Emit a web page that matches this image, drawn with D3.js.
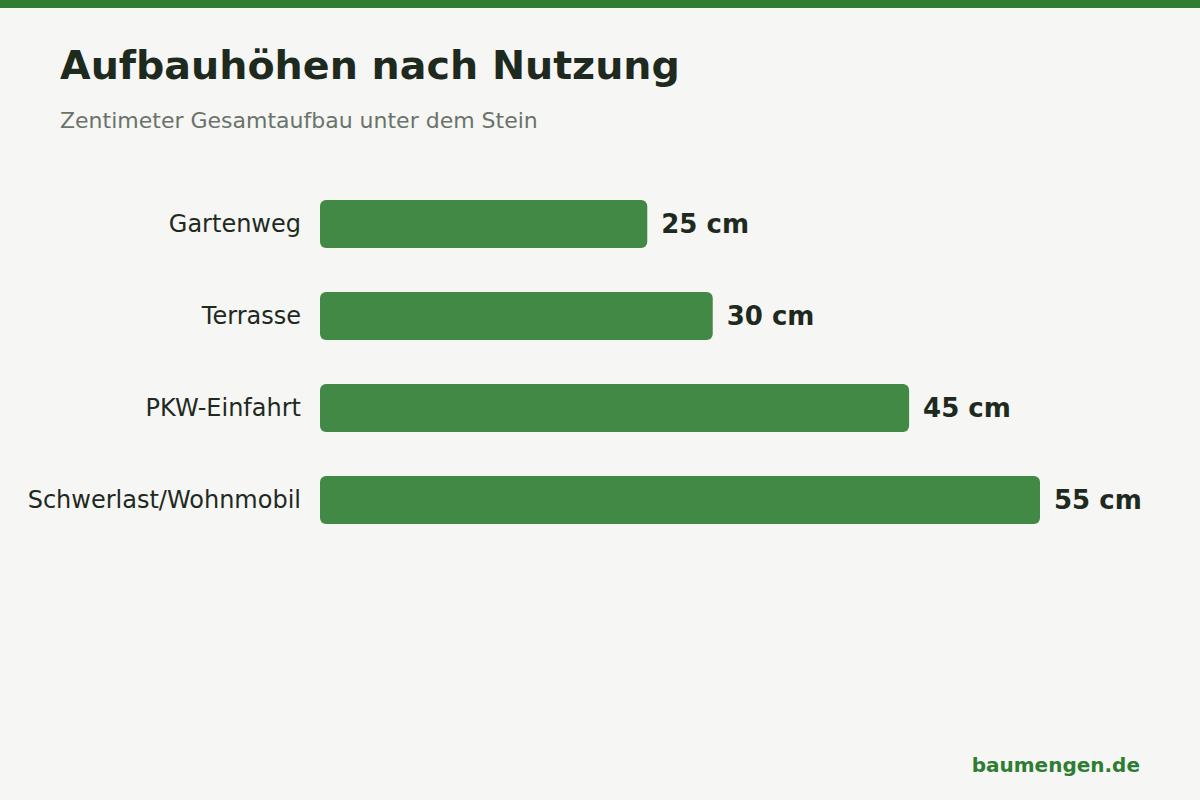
<!DOCTYPE html>
<html>
<head>
<meta charset="utf-8">
<script src="https://cdn.jsdelivr.net/npm/d3@7"></script>
<style>
  body { margin: 0; background: #f6f6f4; }
  svg { display: block; font-family: "DejaVu Sans", sans-serif; }
</style>
</head>
<body>
<svg id="chart" width="1200" height="800"></svg>
<script>
var categories = ['Gartenweg', 'Terrasse', 'PKW-Einfahrt', 'Schwerlast/Wohnmobil'];
var values = [25, 30, 45, 55];
var unit = 'cm';

var svg = d3.select('#chart');
var W = 1200, H = 800;

svg.append('rect').attr('width', W).attr('height', H).attr('fill', '#f6f6f4');
svg.append('rect').attr('width', W).attr('height', 8).attr('fill', '#2e7d32');

svg.append('text')
	.attr('x', 60).attr('y', 79)
	.attr('font-size', 39.6).attr('font-weight', 'bold')
	.attr('fill', '#1f2a1f')
	.text('Aufbauhöhen nach Nutzung');

svg.append('text')
	.attr('x', 60).attr('y', 128)
	.attr('font-size', 22)
	.attr('fill', '#6a736a')
	.text('Zentimeter Gesamtaufbau unter dem Stein');

var x = d3.scaleLinear().domain([0, d3.max(values)]).range([320, 1040]);
var y = d3.scaleBand().domain(categories).range([178, 546]).paddingInner(0.48).paddingOuter(0.24);

var data = categories.map(function(c, i) { return {cat: c, val: values[i]}; });

var g = svg.append('g');
g.selectAll('rect.bar')
	.data(data)
	.enter()
	.append('rect')
	.attr('class', 'bar')
	.attr('x', x(0))
	.attr('y', function(d) { return y(d.cat); })
	.attr('width', function(d) { return x(d.val) - x(0); })
	.attr('height', y.bandwidth())
	.attr('rx', 6)
	.attr('fill', '#2e7d32')
	.attr('fill-opacity', 0.9);

g.selectAll('text.cat')
	.data(data)
	.enter()
	.append('text')
	.attr('class', 'cat')
	.attr('x', 301)
	.attr('y', function(d) { return y(d.cat) + y.bandwidth() / 2; })
	.attr('dy', '0.35em')
	.attr('text-anchor', 'end')
	.attr('font-size', 24)
	.attr('fill', '#1f2a1f')
	.text(function(d) { return d.cat; });

g.selectAll('text.val')
	.data(data)
	.enter()
	.append('text')
	.attr('class', 'val')
	.attr('x', function(d) { return x(d.val) + 14; })
	.attr('y', function(d) { return y(d.cat) + y.bandwidth() / 2; })
	.attr('dy', '0.35em')
	.attr('font-size', 26)
	.attr('font-weight', 'bold')
	.attr('fill', '#1f2a1f')
	.text(function(d) { return d.val + ' ' + unit; });

svg.append('text')
	.attr('x', 1140).attr('y', 772)
	.attr('text-anchor', 'end')
	.attr('font-size', 20).attr('font-weight', 'bold')
	.attr('fill', '#2e7d32')
	.text('baumengen.de');
</script>
</body>
</html>
